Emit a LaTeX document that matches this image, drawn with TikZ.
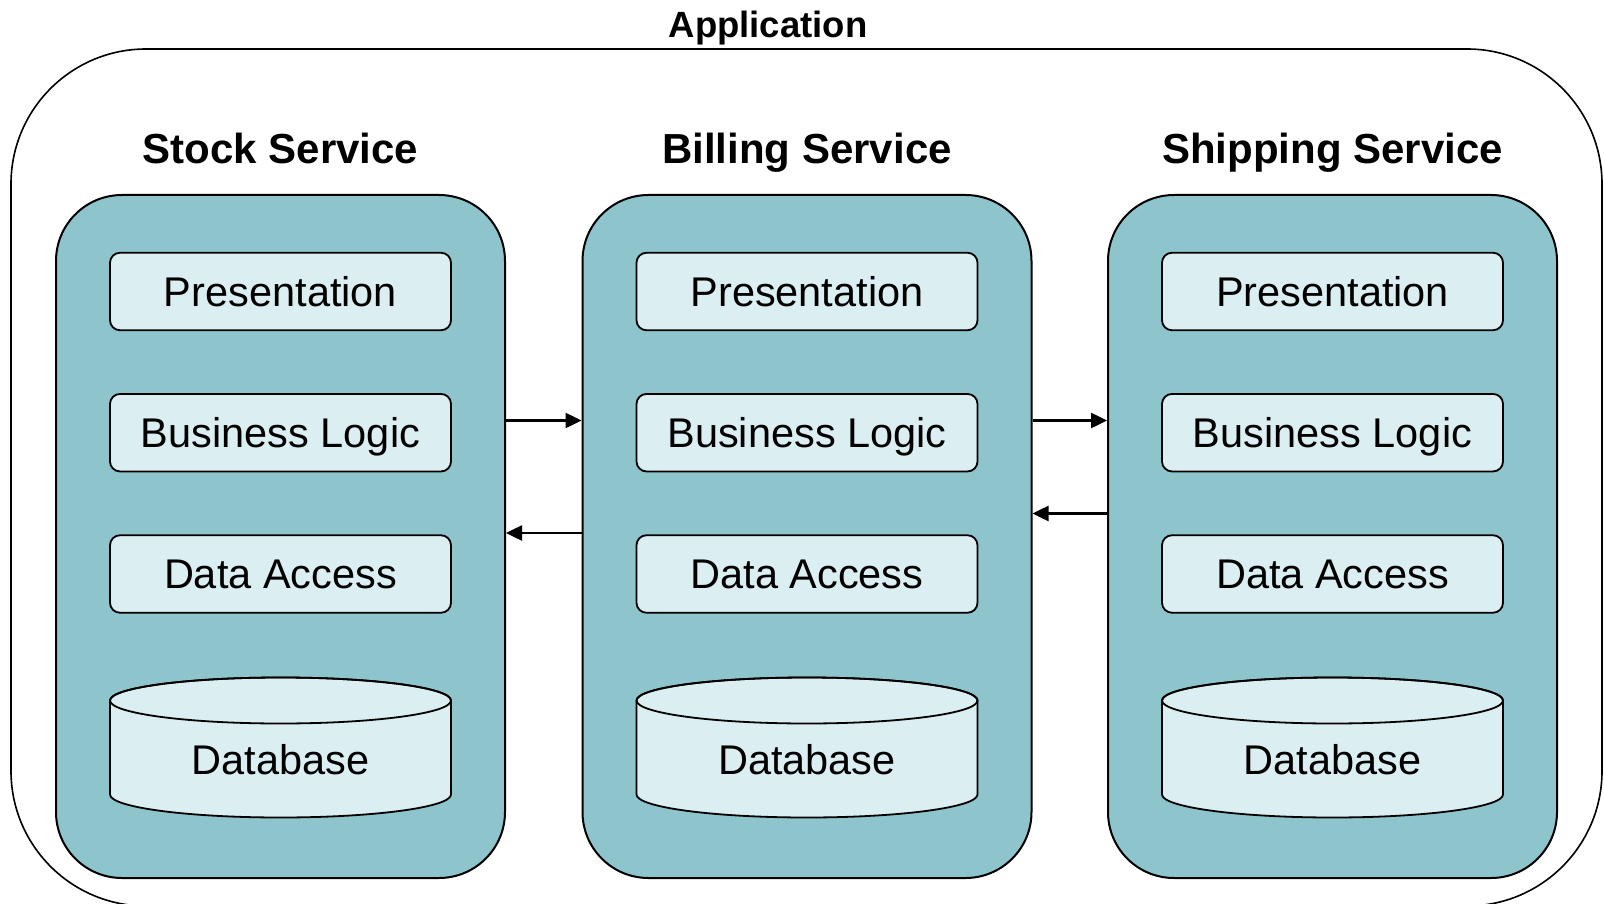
\documentclass[tikz,border=0pt]{standalone}
\usepackage{fontspec}
\setmainfont{Liberation Sans}
\usetikzlibrary{arrows.meta}

\definecolor{svcfill}{RGB}{142,197,205}
\definecolor{layerfill}{RGB}{219,238,241}

\tikzset{
  appframe/.style={draw=black, line width=1.6pt, rounded corners=135pt,
    minimum width=1591pt, minimum height=857pt, inner sep=0pt},
  apptitle/.style={font=\bfseries\fontsize{36.5}{42}\selectfont, inner sep=0pt,
    text height=26pt, text depth=0pt},
  svcbox/.style={draw=black, fill=svcfill, line width=2pt, rounded corners=66pt,
    minimum width=449pt, minimum height=683pt, inner sep=0pt},
  svctitle/.style={font=\bfseries\fontsize{42}{48}\selectfont, inner sep=0pt,
    text height=30pt, text depth=0pt},
  layerbox/.style={draw=black, fill=layerfill, line width=1.8pt, rounded corners=10pt,
    minimum width=341pt, minimum height=77.5pt, inner sep=0pt,
    text height=29.7pt, text depth=0pt,
    font=\fontsize{41.5}{48}\selectfont},
  dbtext/.style={inner sep=0pt, text height=29.7pt, text depth=0pt,
    font=\fontsize{41.5}{48}\selectfont},
  dbbody/.style={draw=black, fill=layerfill, line width=1.8pt},
  flow/.style={draw=black, line width=2.5pt, -{Triangle[length=16pt,width=15pt]}},
}

\newcommand{\servicecolumn}[3]{%
  % #1 = name prefix, #2 = centre x, #3 = title
  \node[svcbox] (#1) at (#2,-536.5) {};
  \node[svctitle] (#1title) at (#2,-149) {#3};
  \node[layerbox] (#1pres) at (#2,-291.5) {Presentation};
  \node[layerbox] (#1logic) at (#2,-432.7) {Business Logic};
  \node[layerbox] (#1data) at (#2,-574) {Data Access};
  % database cylinder
  \path[dbbody] (#2-170.5,-700.5) -- (#2-170.5,-794.5)
     arc (180:360:170.5 and 23) -- (#2+170.5,-700.5)
     arc (0:180:170.5 and 23) -- cycle;
  \draw[line width=1.8pt] (#2,-700.5) ellipse (170.5 and 23);
  \node[dbtext] (#1db) at (#2,-760) {Database};
}

\begin{document}
\begin{tikzpicture}[x=1pt,y=1pt]
  \useasboundingbox (0,0) rectangle (1604,-904);
  \begin{scope}
    \clip (0,0) rectangle (1604,-904);
    \node[appframe] (app) at (806.5,-477.5) {};
  \end{scope}
  \node[apptitle] (apptitle) at (768,-24.5) {Application};

  \servicecolumn{stock}{280.5}{Stock Service}
  \servicecolumn{billing}{807}{Billing Service}
  \servicecolumn{shipping}{1332.5}{Shipping Service}

  % calls between the services
  \draw[flow] (stock.east |- 0,-420.5) -- (billing.west |- 0,-420.5);
  \draw[flow] (billing.west |- 0,-533) -- (stock.east |- 0,-533);
  \draw[flow] (billing.east |- 0,-420.5) -- (shipping.west |- 0,-420.5);
  \draw[flow] (shipping.west |- 0,-513.5) -- (billing.east |- 0,-513.5);
\end{tikzpicture}
\end{document}
